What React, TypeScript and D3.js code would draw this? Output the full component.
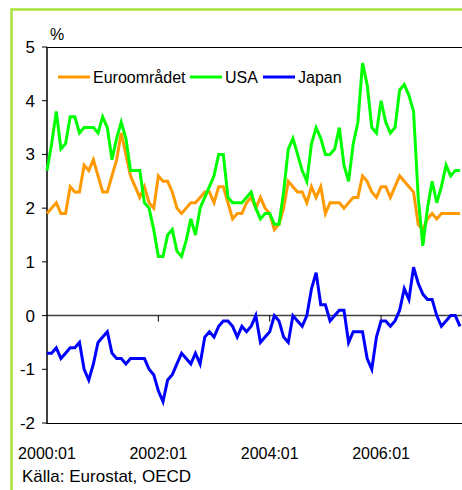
import React from "react";
import * as d3 from "d3";

// Monthly categories 2000:01 .. 2007:06
const startYear = 2000;
const monthCount = 90;
const categories: string[] = Array.from({ length: monthCount }, (_, i) => {
  const y = startYear + Math.floor(i / 12);
  const m = (i % 12) + 1;
  return `${y}:${m < 10 ? "0" + m : m}`;
});

const euro: number[] = [
  1.9, 2.0, 2.1, 1.9, 1.9, 2.4, 2.3, 2.3, 2.8, 2.7, 2.9, 2.6,
  2.3, 2.3, 2.6, 2.9, 3.4, 3.0, 2.6, 2.4, 2.2, 2.4, 2.1, 2.0,
  2.6, 2.5, 2.5, 2.3, 2.0, 1.9, 2.0, 2.1, 2.1, 2.2, 2.3, 2.3,
  2.1, 2.4, 2.4, 2.1, 1.8, 1.9, 1.9, 2.1, 2.2, 2.0, 2.2, 2.0,
  1.9, 1.6, 1.7, 2.0, 2.5, 2.4, 2.3, 2.3, 2.1, 2.4, 2.2, 2.4,
  1.9, 2.1, 2.1, 2.1, 2.0, 2.1, 2.2, 2.2, 2.6, 2.5, 2.3, 2.2,
  2.4, 2.4, 2.2, 2.4, 2.6, 2.5, 2.4, 2.3, 1.7, 1.6, 1.8, 1.9,
  1.8, 1.9, 1.9, 1.9, 1.9, 1.9,
];

const usa: number[] = [
  2.7, 3.2, 3.8, 3.1, 3.2, 3.7, 3.7, 3.4, 3.5, 3.5, 3.5, 3.4,
  3.7, 3.5, 2.9, 3.3, 3.6, 3.3, 2.7, 2.7, 2.7, 2.1, 2.0, 1.6,
  1.1, 1.1, 1.5, 1.6, 1.2, 1.1, 1.4, 1.8, 1.5, 2.0, 2.2, 2.4,
  2.6, 3.0, 3.0, 2.2, 2.1, 2.1, 2.1, 2.2, 2.3, 2.0, 1.8, 1.9,
  1.9, 1.7, 1.7, 2.3, 3.1, 3.3, 3.0, 2.7, 2.5, 3.2, 3.5, 3.3,
  3.0, 3.0, 3.1, 3.5, 2.8, 2.5, 3.2, 3.6, 4.7, 4.3, 3.5, 3.4,
  4.0, 3.6, 3.4, 3.5, 4.2, 4.3, 4.1, 3.8, 2.2, 1.3, 2.0, 2.5,
  2.1, 2.4, 2.8, 2.6, 2.7, 2.7,
];

const japan: number[] = [
  -0.7, -0.7, -0.6, -0.8, -0.7, -0.6, -0.6, -0.5, -1.0, -1.2, -0.9, -0.5,
  -0.4, -0.3, -0.7, -0.8, -0.8, -0.9, -0.8, -0.8, -0.8, -0.8, -1.0, -1.1,
  -1.4, -1.6, -1.2, -1.1, -0.9, -0.7, -0.8, -0.9, -0.7, -0.9, -0.4, -0.3,
  -0.4, -0.2, -0.1, -0.1, -0.2, -0.4, -0.2, -0.3, -0.2, 0.0, -0.5, -0.4,
  -0.3, 0.0, -0.1, -0.4, -0.5, 0.0, -0.1, -0.2, 0.0, 0.5, 0.8, 0.2,
  0.2, -0.1, 0.0, 0.1, 0.1, -0.5, -0.3, -0.3, -0.3, -0.8, -1.0, -0.4,
  -0.1, -0.1, -0.2, -0.1, 0.1, 0.5, 0.3, 0.9, 0.6, 0.4, 0.3, 0.3,
  0.0, -0.2, -0.1, 0.0, 0.0, -0.2,
];

const seriesNames = ["Euroområdet", "USA", "Japan"];
const seriesColors = ["#ff9900", "#00ff00", "#0000ff"];
const yTicks = [5, 4, 3, 2, 1, 0, -1, -2];
const xTickLabels = ["2000:01", "2002:01", "2004:01", "2006:01"];
const unitLabel = "%";
const sourceText = "Källa: Eurostat, OECD";

const W = 462;
const H = 490;
const plotLeft = 47;
const plotTop = 47;
const plotBottom = 423;
const monthStep = 4.64;

export default function App() {
  const x = d3
    .scaleLinear()
    .domain([0, monthCount - 1])
    .range([plotLeft, plotLeft + (monthCount - 1) * monthStep]);
  const y = d3.scaleLinear().domain([-2, 5]).range([plotBottom, plotTop]);

  const line = d3
    .line<number>()
    .x((_, i) => x(i))
    .y((d) => y(d));

  const allSeries = [euro, usa, japan];
  const font = "'Liberation Sans', Arial, sans-serif";
  const tickIdx = xTickLabels.map((l) => categories.indexOf(l));

  const legendX = [58, 190, 263];

  return (
    <svg
      width={W}
      height={H}
      style={{ position: "absolute", left: 0, top: 0, background: "#fff" }}
      fontFamily={font}
    >
      <rect x={0} y={0} width={W} height={H} fill="#fff" />
      {/* frame */}
      <path d={`M11.5,${H} L11.5,9.5 L${W},9.5`} fill="none" stroke="#a8e23a" strokeWidth={2.5} />

      {/* plot border top & bottom */}
      <line x1={plotLeft} x2={W} y1={plotTop + 0.5} y2={plotTop + 0.5} stroke="#000" strokeWidth={1} />
      <line x1={plotLeft} x2={W} y1={plotBottom + 0.5} y2={plotBottom + 0.5} stroke="#000" strokeWidth={1} />

      {/* zero line */}
      <line x1={plotLeft} x2={W} y1={y(0)} y2={y(0)} stroke="#404040" strokeWidth={1.5} />
      {tickIdx.slice(1).map((ti) => (
        <line key={ti} x1={x(ti)} x2={x(ti)} y1={y(0)} y2={y(0) + 6} stroke="#000" strokeWidth={1} />
      ))}

      {/* y axis */}
      <line x1={plotLeft} x2={plotLeft} y1={plotTop} y2={plotBottom + 1} stroke="#000" strokeWidth={1.5} />
      {yTicks.map((t) => (
        <g key={t}>
          <line x1={plotLeft - 5} x2={plotLeft} y1={y(t)} y2={y(t)} stroke="#000" strokeWidth={1} />
          <text x={35} y={y(t) + 6} fontSize={17} textAnchor="end" fill="#000">
            {t}
          </text>
        </g>
      ))}
      <text x={50} y={40} fontSize={16} fill="#000">
        {unitLabel}
      </text>

      {/* series */}
      {allSeries.map((s, k) => (
        <path
          key={k}
          d={line(s) || ""}
          fill="none"
          stroke={seriesColors[k]}
          strokeWidth={3}
          strokeLinejoin="miter"
          strokeMiterlimit={4}
        />
      ))}

      {/* legend */}
      {seriesNames.map((n, k) => (
        <g key={n}>
          <line
            x1={legendX[k]}
            x2={legendX[k] + 32}
            y1={77}
            y2={77}
            stroke={seriesColors[k]}
            strokeWidth={3}
          />
          <text x={legendX[k] + 35} y={82.5} fontSize={16} fill="#000">
            {n}
          </text>
        </g>
      ))}

      {/* x labels */}
      {xTickLabels.map((l, k) => (
        <text key={l} x={x(tickIdx[k])} y={459} fontSize={16} textAnchor="middle" fill="#000">
          {l}
        </text>
      ))}

      <text x={22} y={482} fontSize={17} fill="#000">
        {sourceText}
      </text>
    </svg>
  );
}
